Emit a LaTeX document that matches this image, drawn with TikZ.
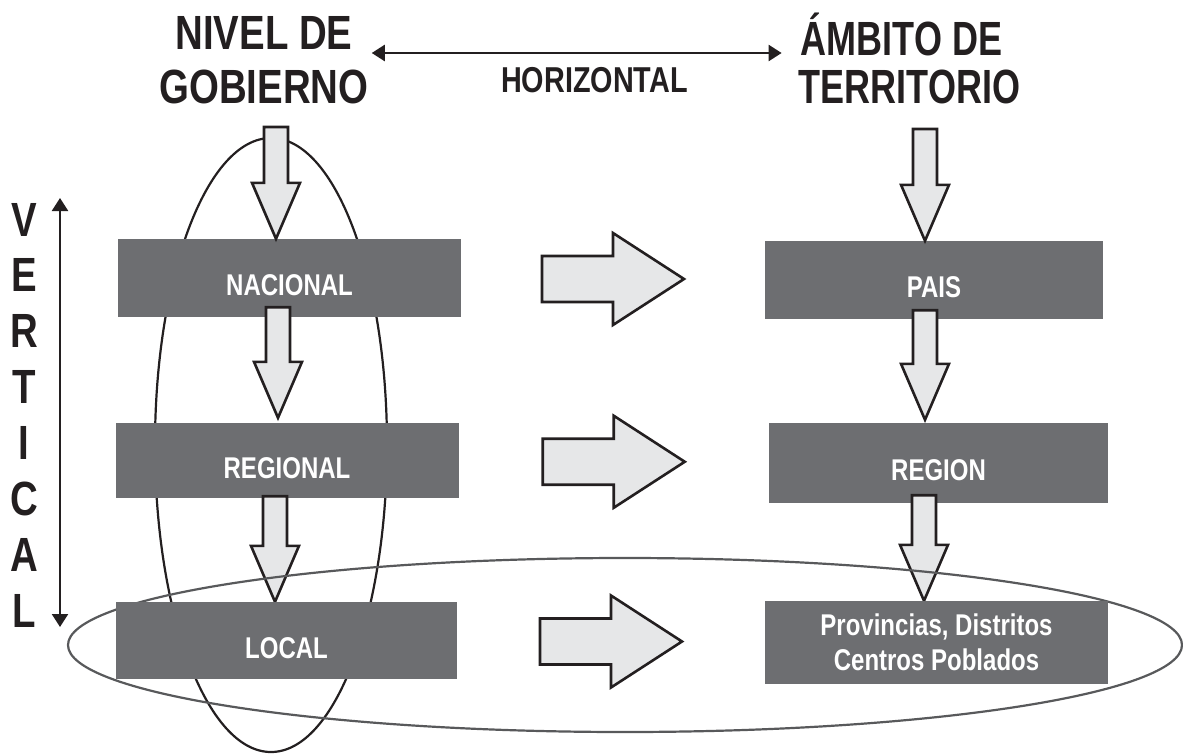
\documentclass[tikz,border=0pt]{standalone}
\usepackage{fontspec}
\setmainfont{Liberation Sans}
\newfontfamily\condfont{Liberation Sans}[FakeStretch=0.8]
\newfontfamily\narrowfont{Liberation Sans}[FakeStretch=0.75]
\usetikzlibrary{arrows.meta,calc,positioning}

\definecolor{boxgray}{RGB}{109,110,113}
\definecolor{pale}{RGB}{230,231,232}
\definecolor{ringgray}{RGB}{88,89,91}
\definecolor{ink}{RGB}{35,31,32}

\pgfdeclarelayer{back}
\pgfdeclarelayer{ring}
\pgfdeclarelayer{front}
\pgfsetlayers{back,main,ring,front}

\tikzset{
 tier/.style={fill=boxgray, text=white, inner sep=0pt, font=\condfont\bfseries\fontsize{30}{35}\selectfont},
 oneline/.style={text height=35pt, text depth=0pt},
 bigword/.style={inner sep=0pt, text=ink, text height=34pt, text depth=0pt, font=\condfont\bfseries\fontsize{48}{52}\selectfont},
 bignarrow/.style={bigword, font=\narrowfont\bfseries\fontsize{48}{52}\selectfont},
 fat/.style={draw=ink, fill=pale, line width=2.6pt, line join=miter},
 span/.style={draw=ink, line width=2.3pt, {Triangle[length=13pt,width=16pt]}-{Triangle[length=13pt,width=16pt]}},
}

% block arrow down: shaft from #1, tip at the height of #2
\newcommand{\fatdown}[2]{%
 \draw[fat] let \p1=(#1), \p2=(#2) in
 (\x1-12pt,\y1) -- (\x1-12pt,\y2+56pt) -- (\x1-24pt,\y2+56pt) -- (\x1,\y2)
 -- (\x1+24pt,\y2+56pt) -- (\x1+12pt,\y2+56pt) -- (\x1+12pt,\y1) -- cycle;}
% block arrow right, centred on #1
\newcommand{\fatright}[1]{%
 \draw[fat, shift={(#1)}] (-71,-23) -- (0,-23) -- (0,-46) -- (71,0)
 -- (0,46) -- (0,23) -- (-71,23) -- cycle;}

\begin{document}
\begin{tikzpicture}[x=1pt,y=-1pt]
\useasboundingbox (0,0) rectangle (1183,755);

\begin{pgfonlayer}{back}
\draw[ink, line width=2.2pt] (271,445) ellipse [x radius=116pt, y radius=307pt];
\end{pgfonlayer}

\node[tier,oneline,minimum width=343pt,minimum height=78pt] (nacional) at (289.5,278) {NACIONAL};
\node[tier,oneline,minimum width=343pt,minimum height=75pt] (regional) at (287,460.5) {REGIONAL};
\node[tier,oneline,minimum width=338pt,minimum height=78pt] (pais) at (934,280) {PAIS};
\node[tier,oneline,minimum width=339pt,minimum height=80pt] (region) at (938.5,463) {REGION};
\begin{pgfonlayer}{front}
\node[tier,oneline,minimum width=341pt,minimum height=77pt] (local) at (286.5,640.5) {LOCAL};
\node[tier,align=center,minimum width=343pt,minimum height=83pt] (prov) at (936.5,642.5) {Provincias, Distritos\\Centros Poblados};
\end{pgfonlayer}

\node[bigword] (nivel) at (264,32.5) {NIVEL DE};
\node[bigword] (gob) at (264,86) {GOBIERNO};
\node[bignarrow] (ambito) at (901.5,38.5) {ÁMBITO DE};
\node[bignarrow] (terr) at (909.5,86) {TERRITORIO};
\node[inner sep=0pt, text=ink, text height=26pt, text depth=0pt, font=\condfont\bfseries\fontsize{36}{40}\selectfont] (horiz) at (594.5,79.5) {HORIZONTAL};

\foreach \ch [count=\i from 0] in {V,E,R,T,I,C,A,L}
 \node[bigword] (v\i) at (24,219+55.9*\i) {\ch};

\coordinate (vtop) at (60,198);
\coordinate (vbot) at (60,627);
\draw[span] (vtop) -- (vbot);
\coordinate (hz) at (0,53);
\draw[span, shorten <=19pt, shorten >=19pt] (nivel.east |- hz) -- (ambito.west |- hz);

\coordinate (gobfoot) at (276,127);
\coordinate (terrfoot) at (925,129);
\fatdown{gobfoot}{nacional.north}
\fatdown{$(nacional.south)+(-11.5,-10)$}{[yshift=5pt]regional.north}
\fatdown{$(regional.south)+(-12,-2)$}{local.north}
\fatdown{terrfoot}{pais.north}
\fatdown{$(pais.south)+(-9,-9)$}{[yshift=3pt]region.north}
\fatdown{$(region.south)+(-14.5,-8)$}{prov.north}

\coordinate (h1) at ($(nacional.east)!0.5!(pais.west)$);
\coordinate (h2) at ($(regional.east)!0.5!(region.west)$);
\coordinate (h3) at ($(local.east)!0.5!(prov.west)$);
\fatright{h1}
\fatright{h2}
\fatright{h3}

\begin{pgfonlayer}{ring}
\draw[ringgray, line width=2.2pt] (625,645) ellipse [x radius=557pt, y radius=87pt];
\end{pgfonlayer}
\end{tikzpicture}
\end{document}
